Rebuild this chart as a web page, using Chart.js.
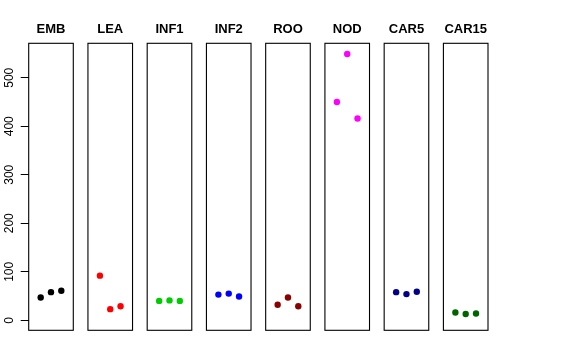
<!DOCTYPE html>
<html lang="en">
<head>
    <meta charset="UTF-8" />
    <title>Points by tissue</title>
    <script src="https://cdn.jsdelivr.net/npm/chart.js"></script>
    <style>
        html, body { margin: 0; padding: 0; background: #fff; }
        #wrap { width: 576px; height: 360px; }
    </style>
</head>
<body>
    <div id="wrap"><canvas id="chart" width="576" height="360"></canvas></div>

    <script>
        // categories (one panel each) and their colours
        const categories = ['EMB', 'LEA', 'INF1', 'INF2', 'ROO', 'NOD', 'CAR5', 'CAR15'];
        const colors = ['#000000', '#ff0000', '#00cd00', '#0000ff', '#8b0000', '#ff00ff', '#00008b', '#006400'];

        // three replicate values per panel
        const EMB = [47, 58, 61];
        const LEA = [92, 23, 29];
        const INF1 = [40, 41, 40];
        const INF2 = [53, 55, 49];
        const ROO = [32, 47, 29];
        const NOD = [450, 549, 416];
        const CAR5 = [58, 54, 59];
        const CAR15 = [16, 13, 14];
        const series = [EMB, LEA, INF1, INF2, ROO, NOD, CAR5, CAR15];

        const yTicks = [0, 100, 200, 300, 400, 500];

        // panel layout in x units: replicates at 1,2,3, panel spans -0.16..4.16
        const STEP = 5.74;
        const PAD = 0.16;
        const FONT = 'Liberation Sans, Arial, Helvetica, sans-serif';

        const datasets = series.map((vals, i) => ({
            label: categories[i],
            data: vals.map((v, j) => ({ x: i * STEP + j + 1, y: v })),
            backgroundColor: colors[i],
            borderWidth: 0,
            pointRadius: 3.2,
            pointHoverRadius: 3.2
        }));

        // draw one frame per panel
        const panelBoxes = {
            id: 'panelBoxes',
            afterDatasetsDraw(chart) {
                const { ctx, chartArea, scales: { x } } = chart;
                ctx.save();
                ctx.strokeStyle = '#000';
                ctx.lineWidth = 1.1;
                categories.forEach((c, i) => {
                    const l = x.getPixelForValue(i * STEP - PAD);
                    const r = x.getPixelForValue(i * STEP + 4 + PAD);
                    ctx.strokeRect(l, chartArea.top, r - l, chartArea.bottom - chartArea.top);
                });
                ctx.restore();
            }
        };

        new Chart(document.getElementById('chart'), {
            type: 'scatter',
            data: { datasets },
            options: {
                responsive: false,
                animation: false,
                layout: { padding: { left: 0, right: 88, top: 0, bottom: 29.7 } },
                plugins: { legend: { display: false }, tooltip: { enabled: false } },
                scales: {
                    x: {
                        type: 'linear',
                        position: 'top',
                        min: -PAD,
                        max: (categories.length - 1) * STEP + 4 + PAD,
                        afterBuildTicks: s => { s.ticks = categories.map((c, i) => ({ value: i * STEP + 2 })); },
                        afterFit: s => { s.height = 43.3; },
                        grid: { display: false, drawTicks: false },
                        border: { display: false },
                        ticks: {
                            autoSkip: false,
                            maxRotation: 0,
                            padding: 6,
                            color: '#000',
                            font: { family: FONT, size: 13, weight: 'bold' },
                            callback: (v, idx) => categories[idx]
                        }
                    },
                    y: {
                        min: -20.6,
                        max: 571,
                        afterBuildTicks: s => { s.ticks = yTicks.map(v => ({ value: v })); },
                        afterFit: s => { s.width = 28.7; },
                        grid: { drawOnChartArea: false, drawTicks: true, tickLength: 8, color: '#000' },
                        border: { display: false },
                        ticks: {
                            minRotation: 90,
                            maxRotation: 90,
                            crossAlign: 'center',
                            padding: 1,
                            color: '#000',
                            font: { family: FONT, size: 12 }
                        }
                    }
                }
            },
            plugins: [panelBoxes]
        });
    </script>
</body>
</html>
